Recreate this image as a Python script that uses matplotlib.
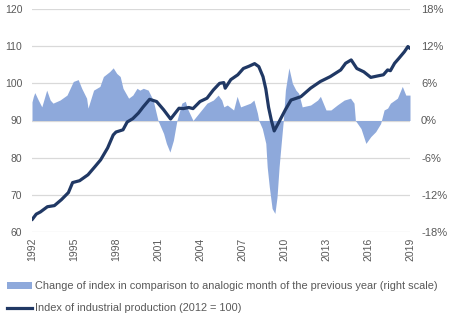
import matplotlib
matplotlib.use("Agg")
import matplotlib.pyplot as plt
from matplotlib.patches import Patch
from matplotlib.lines import Line2D
import matplotlib.ticker as mticker

plt.rcParams["font.family"] = ["Liberation Sans", "DejaVu Sans"]

# index of industrial production (2012 = 100)
idx_years = [1992.0, 1992.3, 1992.6, 1993.1, 1993.6, 1994.1, 1994.6, 1994.9, 1995.4,
             1996.0, 1996.5, 1996.9, 1997.4, 1997.8, 1998.0, 1998.5, 1998.8, 1999.2,
             1999.6, 1999.95, 2000.4, 2000.9, 2001.4, 2001.9, 2002.5, 2002.8, 2003.2,
             2003.5, 2004.0, 2004.5, 2004.95, 2005.4, 2005.7, 2005.8, 2006.2, 2006.7,
             2007.1, 2007.5, 2007.9, 2008.2, 2008.5, 2008.7, 2008.9, 2009.1, 2009.3,
             2009.6, 2010.1, 2010.5, 2011.2, 2011.9, 2012.6, 2013.3, 2014.05, 2014.4,
             2014.8, 2015.2, 2015.7, 2016.2, 2016.7, 2017.1, 2017.4, 2017.6, 2017.9,
             2018.2, 2018.6, 2018.85, 2019.0]
idx_values = [63.3, 64.8, 65.4, 66.8, 67.1, 68.7, 70.6, 73.3, 73.8,
              75.4, 77.6, 79.4, 82.6, 86.1, 86.9, 87.5, 89.6, 90.5,
              92.0, 93.7, 95.7, 95.1, 92.9, 90.4, 93.3, 93.2, 93.5,
              93.2, 95.1, 96.0, 98.2, 100.0, 100.2, 98.7, 101.0, 102.3,
              104.0, 104.6, 105.3, 104.5, 101.8, 98.5, 93.5, 90.0, 87.2,
              89.3, 92.9, 95.5, 96.4, 98.7, 100.5, 101.8, 103.6, 105.4,
              106.3, 104.0, 103.1, 101.6, 102.0, 102.3, 103.6, 103.4, 105.4,
              106.7, 108.5, 109.9, 109.4]

# year-on-year change, % (right scale)
chg_years = [1992.0, 1992.1, 1992.2, 1992.45, 1992.7, 1993.05, 1993.3, 1993.5, 1994.0,
             1994.5, 1994.95, 1995.3, 1995.55, 1995.9, 1996.0, 1996.4, 1996.85, 1997.1,
             1997.55, 1997.8, 1998.05, 1998.3, 1998.5, 1998.9, 1999.2, 1999.5, 1999.7,
             1999.95, 2000.3, 2000.65, 2001.0, 2001.4, 2001.6, 2001.85, 2002.1, 2002.35,
             2002.7, 2002.95, 2003.15, 2003.5, 2004.0, 2004.5, 2004.95, 2005.3, 2005.55,
             2005.7, 2005.95, 2006.4, 2006.65, 2006.9, 2007.25, 2007.6, 2007.85, 2008.1,
             2008.2, 2008.45, 2008.7, 2008.8, 2008.95, 2009.15, 2009.35, 2009.5, 2009.65,
             2009.8, 2009.95, 2010.1, 2010.35, 2010.6, 2010.85, 2011.05, 2011.3, 2011.9,
             2012.4, 2012.6, 2013.0, 2013.35, 2013.8, 2014.3, 2014.75, 2015.0, 2015.1,
             2015.5, 2015.85, 2016.2, 2016.55, 2016.9, 2017.15, 2017.4, 2017.6, 2018.1,
             2018.45, 2018.7, 2019.0]
chg_values = [3.0, 3.9, 4.5, 3.3, 2.2, 4.9, 3.3, 2.8, 3.3,
              4.1, 6.3, 6.6, 5.2, 3.6, 2.0, 4.9, 5.5, 7.1,
              7.9, 8.5, 7.6, 7.1, 5.2, 3.6, 4.1, 5.2, 4.9,
              5.2, 4.9, 3.3, 0.0, -2.1, -3.7, -5.1, -3.2, 0.0,
              2.8, 3.1, 1.7, 0.0, 1.4, 2.8, 3.3, 4.1, 3.3,
              2.2, 2.5, 1.7, 3.9, 2.2, 2.5, 2.8, 3.3, 1.2,
              0.0, -1.3, -3.7, -7.5, -10.7, -14.2, -15.0, -12.4, -7.5,
              -3.7, 0.0, 4.9, 8.5, 6.0, 4.9, 4.4, 2.2, 2.5,
              3.3, 3.9, 1.7, 1.7, 2.5, 3.3, 3.6, 2.8, 0.0,
              -1.3, -3.7, -2.6, -1.8, -0.5, 1.7, 2.0, 2.8, 3.6,
              5.5, 4.1, 4.1]

year_ticks = list(range(1992, 2020, 3))

area_color = "#8EA9DB"
line_color = "#203864"
text_color = "#595959"
grid_color = "#D9D9D9"

fig = plt.figure(figsize=(4.49, 3.24), dpi=100)
ax = fig.add_axes([32 / 449, 1 - 232 / 324, 378 / 449, 223 / 324])
ax2 = ax.twinx()

ax2.fill_between(chg_years, chg_values, 0, color=area_color, linewidth=0)
ax.plot(idx_years, idx_values, color=line_color, linewidth=2.3, solid_capstyle="round")

# line above area
ax.set_zorder(ax2.get_zorder() + 1)
ax.patch.set_visible(False)

ax.set_xlim(1992, 2019)
ax.set_ylim(60, 120)
ax2.set_ylim(-18, 18)
ax.set_yticks(range(60, 121, 10))
ax2.set_yticks(range(-18, 19, 6))
ax2.yaxis.set_major_formatter(mticker.FuncFormatter(lambda v, p: f"{int(v)}%"))
ax.set_xticks(year_ticks)
ax.set_xticklabels([str(y) for y in year_ticks], rotation=90)

for a in (ax, ax2):
    for s in a.spines.values():
        s.set_visible(False)
    a.tick_params(length=0, colors=text_color, labelsize=7.5)
ax.tick_params(axis="y", pad=7)
ax2.tick_params(axis="y", pad=8, labelsize=8)
ax.tick_params(axis="x", pad=4)

for v in range(60, 121, 10):
    ax2.axhline((v - 90) * 0.6, color=grid_color, linewidth=0.9, zorder=0)

handles = [Patch(facecolor=area_color, edgecolor="none"),
           Line2D([0], [0], color=line_color, linewidth=2.3)]
labels = ["Change of index in comparison to analogic month of the previous year (right scale)",
          "Index of industrial production (2012 = 100)"]
leg = fig.legend(handles, labels, loc="upper left", bbox_to_anchor=(0.005, 0.145),
                 frameon=False, fontsize=7.9, handlelength=2.3, handleheight=0.6,
                 handletextpad=0.3, labelspacing=1.1, borderaxespad=0)
for t in leg.get_texts():
    t.set_color(text_color)

fig.savefig("out.png", dpi=100)
